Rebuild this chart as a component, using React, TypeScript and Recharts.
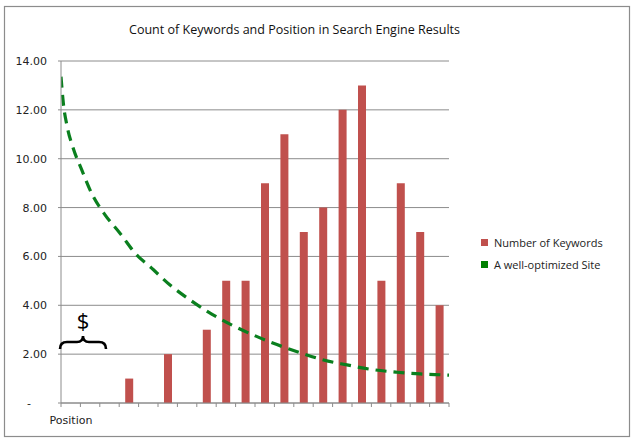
import React from "react";
import {
  ComposedChart, Bar, Line, XAxis, YAxis, CartesianGrid,
} from "recharts";

const POSITIONS = [1, 2, 3, 4, 5, 6, 7, 8, 9, 10, 11, 12, 13, 14, 15, 16, 17, 18, 19, 20];
const KEYWORD_COUNTS = [0, 0, 0, 1, 0, 2, 0, 3, 5, 5, 9, 11, 7, 8, 12, 13, 5, 9, 7, 4];

// trend curve, x in position units from the left axis
const TREND_AT = [0, 0.12, 0.32, 0.63, 1.07, 1.58, 2.27, 3.04, 3.9, 4.59, 5.62, 6.65, 7.77, 8.81, 9.92, 11.13, 12.33, 13.53, 14.74, 15.94, 17.32, 18.52, 19.72, 20];
const TREND_VALUES = [13.36, 12.27, 11.31, 10.43, 9.54, 8.58, 7.7, 6.95, 6.06, 5.58, 4.83, 4.22, 3.64, 3.19, 2.78, 2.39, 2.06, 1.76, 1.56, 1.38, 1.26, 1.19, 1.15, 1.14];

const Y_TICKS = [0, 2, 4, 6, 8, 10, 12, 14];
const X_TICKS = [0, 1, 2, 3, 4, 5, 6, 7, 8, 9, 10, 11, 12, 13, 14, 15, 16, 17, 18, 19, 20];

const BAR_COLOR = "#C0504D";
const LINE_COLOR = "#0A7F1E";
const GRID = "#8c8c8c";
const AXIS_FONT = "'DejaVu Sans', sans-serif";
const TEXT_FONT = "'Open Sans', 'Noto Sans', sans-serif";

const barData = POSITIONS.map((p, i) => ({ pos: p, count: KEYWORD_COUNTS[i] }));
const trendData = TREND_AT.map((x, i) => ({ x, value: TREND_VALUES[i] }));

const LEGEND_ITEMS = [
  { label: "Number of Keywords", color: BAR_COLOR },
  { label: "A well-optimized Site", color: "#008000" },
];

function YTick({ x, y, payload }: any) {
  const v = payload.value as number;
  if (v === 0) {
    return (
      <text x={x - 18} y={y} dy={4} textAnchor="middle" fontSize={11} fontFamily={AXIS_FONT} fill="#222">
        -
      </text>
    );
  }
  return (
    <text x={x} y={y} dy={4} textAnchor="end" fontSize={11} fontFamily={AXIS_FONT} fill="#222">
      {v.toFixed(2)}
    </text>
  );
}

export default function App() {
  return (
    <div style={{ position: "absolute", left: 0, top: 0, width: 634, height: 442, background: "#fff" }}>
      <ComposedChart
        width={634}
        height={442}
        data={barData}
        margin={{ top: 61, right: 185, left: 0, bottom: 9 }}
        barCategoryGap="58%"
      >
        <CartesianGrid vertical={false} stroke={GRID} strokeWidth={1} xAxisId="num" />
        <XAxis xAxisId="cat" dataKey="pos" type="category" hide height={0} />
        <XAxis
          xAxisId="num"
          dataKey="x"
          type="number"
          domain={[0, 20]}
          allowDataOverflow
          ticks={X_TICKS}
          interval={0}
          tickFormatter={() => ""}
          tickSize={4}
          height={30}
          stroke={GRID}
        />
        <YAxis
          type="number"
          domain={[0, 14]}
          ticks={Y_TICKS}
          interval={0}
          width={61}
          tickSize={3}
          tickMargin={11}
          stroke={GRID}
          tick={<YTick />}
        />
        <Bar xAxisId="cat" dataKey="count" fill={BAR_COLOR} barSize={8} isAnimationActive={false} />
        <Line
          xAxisId="num"
          data={trendData}
          dataKey="value"
          type="monotone"
          stroke={LINE_COLOR}
          strokeWidth={3.2}
          strokeDasharray="11 7"
          dot={false}
          activeDot={false}
          isAnimationActive={false}
        />
      </ComposedChart>
      <div style={{ position: "absolute", left: 481, top: 231 }}>
        {LEGEND_ITEMS.map((it) => (
          <div key={it.label} style={{ display: "flex", alignItems: "center", height: 22 }}>
            <span style={{ width: 7, height: 7, background: it.color, display: "inline-block", marginRight: 6 }} />
            <span style={{ fontSize: 11, fontFamily: TEXT_FONT, color: "#222" }}>{it.label}</span>
          </div>
        ))}
      </div>
      <svg
        width={634}
        height={442}
        style={{ position: "absolute", left: 0, top: 0, pointerEvents: "none" }}
      >
        <rect x={4.5} y={6.5} width={625} height={430} fill="none" stroke={GRID} strokeWidth={1.2} />
        <text
          x={294.5}
          y={34}
          textAnchor="middle"
          fontSize={13.5}
          fontFamily={TEXT_FONT}
          fill="#111"
          textLength={331}
          lengthAdjust="spacingAndGlyphs"
        >
          Count of Keywords and Position in Search Engine Results
        </text>
        <text x={71} y={424} textAnchor="middle" fontSize={11} fontFamily={AXIS_FONT} fill="#222">
          Position
        </text>
        <text x={83} y={329} textAnchor="middle" fontSize={22} fontFamily={TEXT_FONT} fill="#000">
          $
        </text>
        <path
          d="M60,349 Q60,342 67,342 L77,342 Q83,342 83,336 Q83,342 89,342 L99,342 Q106,342 106,349"
          fill="none"
          stroke="#000"
          strokeWidth={2.6}
        />
      </svg>
    </div>
  );
}
